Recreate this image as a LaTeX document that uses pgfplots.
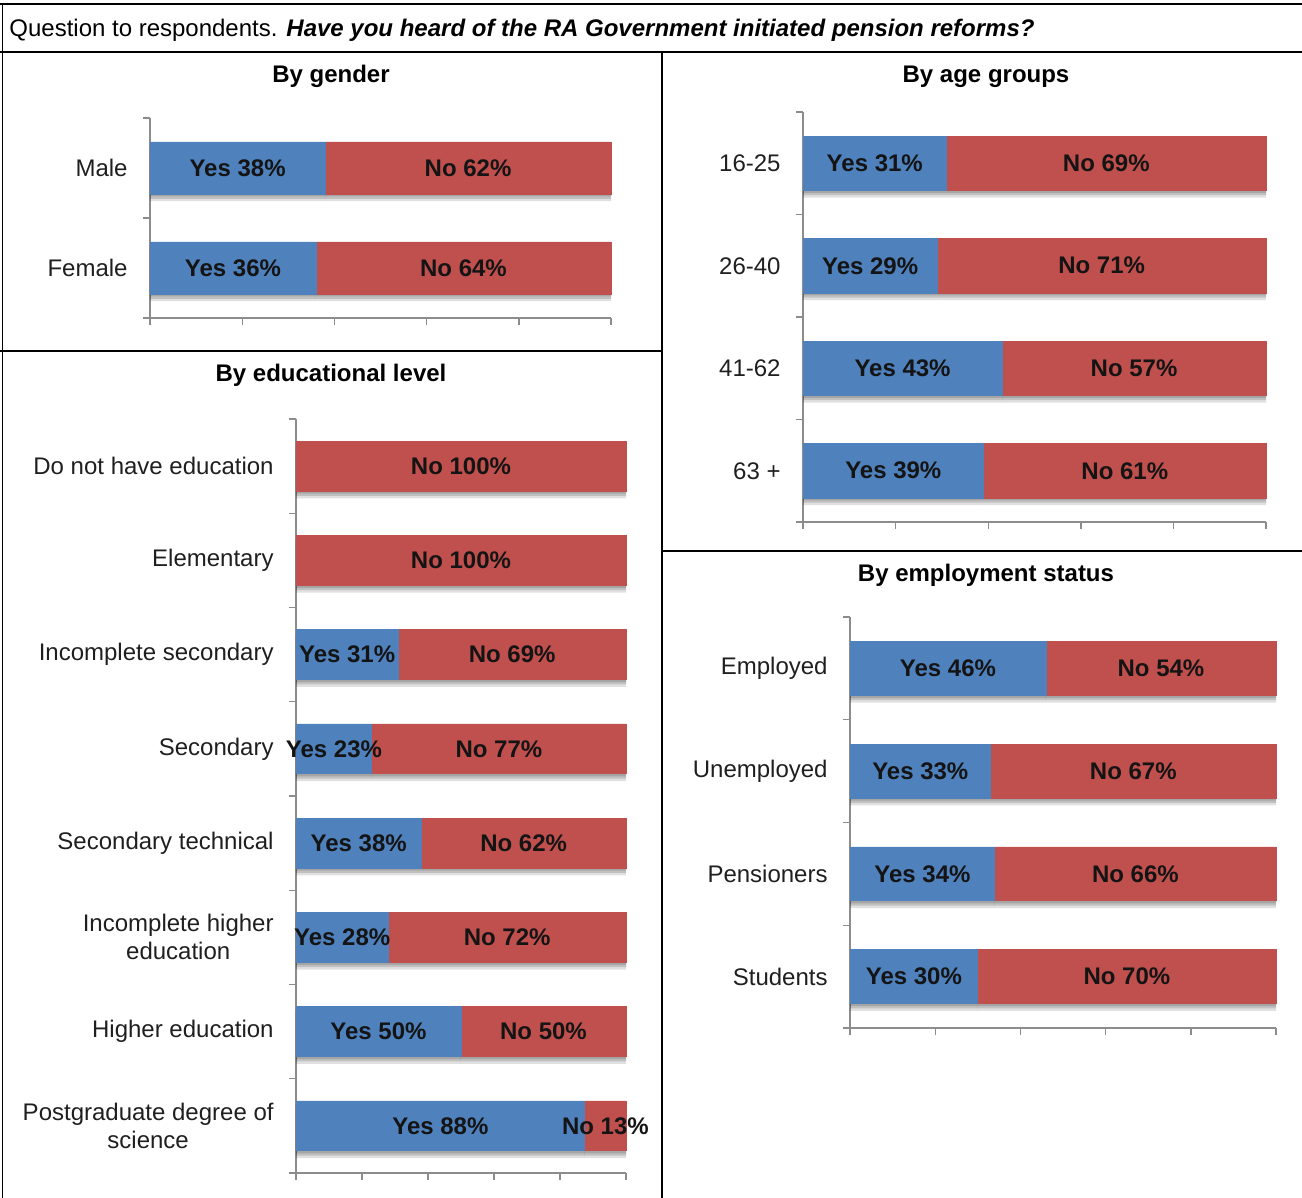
\documentclass[border=0pt]{standalone}
\usepackage{fontspec}
\setmainfont{Liberation Sans}
\usepackage{pgfplots}
\usepackage{pgfplotstable}
\pgfplotsset{compat=1.18}
\definecolor{yesblue}{HTML}{4F81BD}
\definecolor{nored}{HTML}{C0504D}
\definecolor{axgray}{HTML}{8C8C8C}

% idx counts from the bottom category
\pgfplotstableread{
idx yes no
1 38 62
0 36 64
}\gender
\pgfplotstableread{
idx yes no
3 31 69
2 29 71
1 43 57
0 39 61
}\agegroups
\pgfplotstableread{
idx yes no
7 0 100
6 0 100
5 31 69
4 23 77
3 38 62
2 28 72
1 50 50
0 87.5 12.5
}\education
\pgfplotstableread{
idx yes no
3 46 54
2 33 67
1 34 66
0 30 70
}\employment

\pgfplotsset{
  shadowed/.style={
    preaction={fill=black, fill opacity=0.14, draw=none, transform canvas={yshift=-1.2pt}},
    preaction={fill=black, fill opacity=0.14, draw=none, transform canvas={yshift=-2.4pt}},
    preaction={fill=black, fill opacity=0.12, draw=none, transform canvas={yshift=-3.6pt}},
  },
  survey/.style={
    xbar stacked, scale only axis, anchor=south west,
    xmin=0, xmax=100, enlargelimits=false, clip=false,
    axis lines*=left,
    axis line style={-, axgray, line width=0.7pt},
    tick style={axgray, line width=0.7pt},
    tick align=outside,
    xtick={0,20,...,100}, xticklabels={},
    major tick length=3.5pt, minor tick length=3.5pt,
    major y tick style={draw=none},
    tick label style={font=\fontsize{12}{14}\selectfont},
    yticklabel style={align=center, inner sep=0pt, xshift=-7.5pt, text=black!88},
    point meta=explicit,
  },
  yesplot/.style={fill=yesblue, draw=yesblue, line width=0.4pt, shadowed,
    visualization depends on={\thisrow{yes} \as \yv},
    nodes near coords={\ifdim\yv pt>0pt Yes \pgfmathprintnumber[fixed,precision=0,assume math mode=true]{\pgfplotspointmeta}\%\fi},
    every node near coord/.append style={anchor=center,
      font=\fontsize{12}{14}\selectfont\bfseries, text=black!92},
  },
  noplot/.style={fill=nored, draw=nored, line width=0.4pt, shadowed,
    nodes near coords={No \pgfmathprintnumber[fixed,precision=0,assume math mode=true]{\pgfplotspointmeta}\%},
    every node near coord/.append style={anchor=center,
      font=\fontsize{12}{14}\selectfont\bfseries, text=black!92},
  },
}

\begin{document}
\begin{tikzpicture}[font=\fontsize{12}{14}\selectfont]
\useasboundingbox (0,0) rectangle (651pt,-599pt);
% table frame
\draw[line width=0.75pt] (0,-2pt) -- (651pt,-2pt);
\draw[line width=0.75pt] (0,-26pt) -- (651pt,-26pt);
\draw[line width=0.75pt] (1.25pt,-2pt) -- (1.25pt,-599pt);
\draw[line width=0.75pt] (331pt,-26pt) -- (331pt,-599pt);
\draw[line width=0.75pt] (0,-175.5pt) -- (331pt,-175.5pt);
\draw[line width=0.75pt] (331pt,-275.5pt) -- (651pt,-275.5pt);
\node[anchor=base west, inner sep=0pt] at (4.5pt,-18.2pt)
  {Question to respondents. \textbf{\textit{Have you heard of the RA Government initiated pension reforms?}}};
\node[anchor=base, inner sep=0pt, font=\fontsize{12}{14}\selectfont\bfseries] at (165.5pt,-41.5pt) {By gender};
\node[anchor=base, inner sep=0pt, font=\fontsize{12}{14}\selectfont\bfseries] at (165.5pt,-190.5pt) {By educational level};
\node[anchor=base, inner sep=0pt, font=\fontsize{12}{14}\selectfont\bfseries] at (493pt,-41.5pt) {By age groups};
\node[anchor=base, inner sep=0pt, font=\fontsize{12}{14}\selectfont\bfseries] at (493pt,-290.5pt) {By employment status};

% By gender
\begin{axis}[survey, at={(75pt,-159pt)}, width=230.5pt, height=100pt,
  ymin=-0.5, ymax=1.5, ytick={0,1}, yticklabels={Female,Male},
  minor ytick={-0.5,0.5,1.5}, bar width=0.52]
\addplot[yesplot] table[x=yes, y=idx, meta=yes] {\gender};
\addplot[noplot] table[x=no, y=idx, meta=no] {\gender};
\end{axis}

% By age groups
\begin{axis}[survey, at={(401.5pt,-261pt)}, width=231.5pt, height=205pt,
  ymin=-0.5, ymax=3.5, ytick={0,1,2,3}, yticklabels={63 +,41-62,26-40,16-25},
  minor ytick={-0.5,0.5,1.5,2.5,3.5}, bar width=0.53]
\addplot[yesplot] table[x=yes, y=idx, meta=yes] {\agegroups};
\addplot[noplot] table[x=no, y=idx, meta=no] {\agegroups};
\end{axis}

% By educational level
\begin{axis}[survey, at={(148pt,-586.5pt)}, width=165pt, height=377pt,
  ymin=-0.5, ymax=7.5, ytick={0,1,...,7},
  yticklabels={{Postgraduate degree of\\science},{Higher education},{Incomplete higher\\education},{Secondary technical},{Secondary},{Incomplete secondary},{Elementary},{Do not have education}},
  minor ytick={-0.5,0.5,...,7.5}, bar width=0.53]
\addplot[yesplot] table[x=yes, y=idx, meta=yes] {\education};
\addplot[noplot] table[x=no, y=idx, meta=no] {\education};
\end{axis}

% By employment status
\begin{axis}[survey, at={(425pt,-514pt)}, width=213pt, height=205.5pt,
  ymin=-0.5, ymax=3.5, ytick={0,1,2,3}, yticklabels={Students,Pensioners,Unemployed,Employed},
  minor ytick={-0.5,0.5,1.5,2.5,3.5}, bar width=0.525]
\addplot[yesplot] table[x=yes, y=idx, meta=yes] {\employment};
\addplot[noplot] table[x=no, y=idx, meta=no] {\employment};
\end{axis}
\end{tikzpicture}
\end{document}
